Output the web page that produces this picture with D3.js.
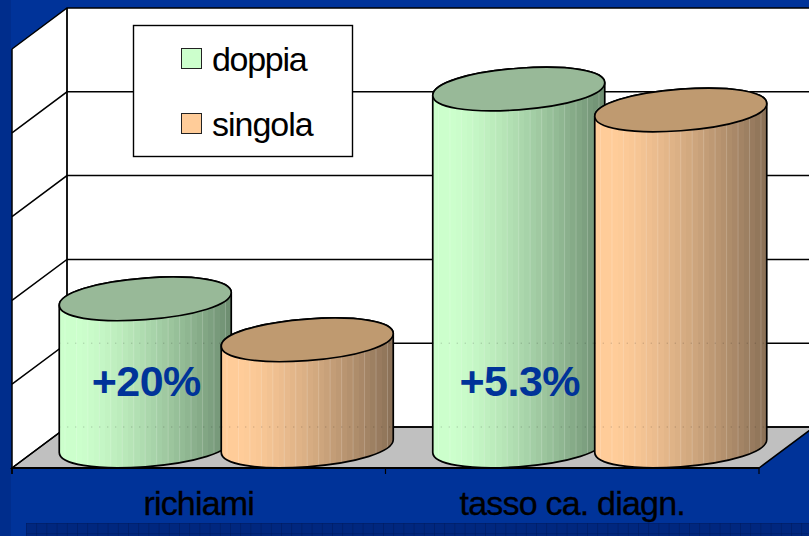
<!DOCTYPE html>
<html><head><meta charset="utf-8">
<script src="https://cdn.jsdelivr.net/npm/d3@7"></script>
<style>html,body{margin:0;padding:0;background:#003399;overflow:hidden}svg{display:block}
text{font-family:"Liberation Sans",Arial,sans-serif}</style></head>
<body><svg id="c" width="809" height="536"></svg>
<script>
const categories = ["richiami", "tasso ca. diagn."];
const seriesNames = ["doppia", "singola"];
const doppia = [1.76, 4.27];
const singola = [1.27, 4.02];
const annotations = ["+20%", "+5.3%"];
const gridTicks = [0, 1, 2, 3, 4, 5];

const svg = d3.select("#c");
const W = 809, H = 536;
const defs = svg.append("defs");
const dx = 55, dy = 41;
const fx0 = 12, fx1 = 759, frontY = 468, topFrontY = 49;
const x = d3.scaleBand().domain(categories).range([fx0, fx1]);
const inner = d3.scaleBand().domain(seriesNames).range([-162, 162]);
const yFront = d3.scaleLinear().domain([0, 5]).range([frontY, topFrontY]);
const yBack = d3.scaleLinear().domain([0, 5]).range([frontY - dy, topFrontY - dy]);
const yBar = d3.scaleLinear().domain([0, 5]).range([446, 28]);

// background
svg.append("rect").attr("width", W).attr("height", H).attr("fill", "#003399");
svg.append("rect").attr("width", 11).attr("height", H).attr("fill", "#002d8c");
const pat = defs.append("pattern").attr("id", "cells").attr("patternUnits", "userSpaceOnUse")
  .attr("width", 10.2).attr("height", 10.2).attr("x", 26).attr("y", 523);
pat.append("rect").attr("width", 10.2).attr("height", 10.2).attr("fill", "#00277f");
pat.append("path").attr("d", "M0 0V10.2M0 0H10.2").attr("stroke", "#001a5c").attr("stroke-width", 1);
svg.append("rect").attr("x", 26).attr("y", 523).attr("width", W - 26).attr("height", 13).attr("fill", "url(#cells)");

// walls
svg.append("rect").attr("x", fx0 + dx).attr("y", yBack(5)).attr("width", W).attr("height", yBack(0) - yBack(5))
  .attr("fill", "#fff");
svg.append("path").attr("d", `M${fx0},${yFront(0)}L${fx0},${yFront(5)}L${fx0 + dx},${yBack(5)}L${fx0 + dx},${yBack(0)}Z`)
  .attr("fill", "#fff");
svg.append("path").attr("d", `M${fx0},${frontY}L${fx1},${frontY}L${fx1 + dx},${frontY - dy}L${fx0 + dx},${frontY - dy}Z`)
  .attr("fill", "#c0c0c0").attr("stroke", "#000").attr("stroke-width", 1.5);
const grid = svg.append("g").attr("fill", "none").attr("stroke", "#000").attr("stroke-width", 1.5);
gridTicks.forEach(t => {
  grid.append("path").attr("d", `M${fx0},${yFront(t)}L${fx0 + dx},${yBack(t)}L${W + 5},${yBack(t)}`);
});
grid.append("path").attr("d", `M${fx0 + dx},${yBack(5)}V${yBack(0)}`).attr("stroke-width", 1.8);
grid.append("path").attr("d", `M${fx0},${yFront(5)}V${yFront(0) + 6}`);
grid.append("path").attr("d", `M${fx0},${frontY}H${fx1}`).attr("stroke-width", 2);

// x axis
const axis = d3.axisBottom(x).tickSize(0).tickPadding(23);
const ag = svg.append("g").attr("transform", `translate(0,${frontY})`).call(axis);
ag.select(".domain").remove();
ag.selectAll("text").attr("font-size", 34).attr("letter-spacing", "-0.8").attr("fill", "#000")
  .attr("stroke", "#000").attr("stroke-width", 0.3).attr("font-family", '"Liberation Sans"');
svg.append("g").selectAll("line").data(categories.concat(["end"])).join("line")
  .attr("x1", (d, i) => fx0 + i * x.bandwidth()).attr("x2", (d, i) => fx0 + i * x.bandwidth())
  .attr("y1", frontY).attr("y2", frontY + 6).attr("stroke", "#000").attr("stroke-width", 1.2);

// stepped cylinder shading
const palette = {
  doppia:  {lit: "#ccffcc", dark: "#6f8f72", top: "#98b998"},
  singola: {lit: "#ffcc99", dark: "#8c7258", top: "#bf9a70"}
};
const N = 30;
seriesNames.forEach(n => {
  const g = defs.append("linearGradient").attr("id", "g-" + n);
  const p = palette[n];
  const c = d3.interpolateRgb(p.lit, p.dark);
  for (let i = 0; i < N; i++) {
    const u = i / (N - 1), v = u < 0.1 ? 0 : Math.pow((u - 0.1) / 0.9, 1.35);
    g.append("stop").attr("offset", i / N).attr("stop-color", c(v));
    g.append("stop").attr("offset", (i + 1) / N).attr("stop-color", c(v));
  }
});

// slightly skewed elliptical caps
const skew = 4.2, rx = 86, ry = 20.8, kx = 0.58, ky = 0.58;
const skewT = `skewY(${-skew})`;
const bodyPath = d => {
  const t = yBar(d.v), b = yBar(0);
  return `M${-rx},${t}V${b}C${-rx},${b + ky * ry} ${-kx * rx},${b + ry} 0,${b + ry}` +
    `C${kx * rx},${b + ry} ${rx},${b + ky * ry} ${rx},${b}V${t}` +
    `C${rx},${t - ky * ry} ${kx * rx},${t - ry} 0,${t - ry}C${-kx * rx},${t - ry} ${-rx},${t - ky * ry} ${-rx},${t}Z`;
};
const capPath = d => {
  const t = yBar(d.v);
  return `M${-rx},${t}C${-rx},${t - ky * ry} ${-kx * rx},${t - ry} 0,${t - ry}C${kx * rx},${t - ry} ${rx},${t - ky * ry} ${rx},${t}` +
    `C${rx},${t + ky * ry} ${kx * rx},${t + ry} 0,${t + ry}C${-kx * rx},${t + ry} ${-rx},${t + ky * ry} ${-rx},${t}Z`;
};
const table = [];
categories.forEach((c, i) => {
  table.push({cat: c, name: "doppia", v: doppia[i]});
  table.push({cat: c, name: "singola", v: singola[i]});
});
const cyl = svg.append("g").selectAll("g").data(table).join("g")
  .attr("transform", d => `translate(${x(d.cat) + x.bandwidth() / 2 + dx / 2 + inner(d.name) + inner.bandwidth() / 2},0)`);
cyl.each(function(d, i) {
  defs.append("clipPath").attr("id", "clip" + i).append("path").attr("d", bodyPath(d)).attr("transform", skewT);
});
cyl.append("path").attr("d", bodyPath).attr("transform", skewT).attr("fill", d => `url(#g-${d.name})`);
// faint facet seams and gridlines showing through the cylinder
const seams = cyl.append("g").attr("clip-path", (d, i) => `url(#clip${i})`);
seams.selectAll("line.s").data(d3.range(1, N, 2).map(i => i / N)).join("line").attr("class", "s")
  .attr("x1", f => -rx + 2 * rx * f).attr("x2", f => -rx + 2 * rx * f)
  .attr("y1", 0).attr("y2", H).attr("stroke", "#fff").attr("stroke-opacity", 0.18).attr("stroke-width", 1);
seams.selectAll("line.g").data(gridTicks.slice(0, 2)).join("line").attr("class", "g")
  .attr("x1", -rx).attr("x2", rx).attr("y1", t => yBack(t)).attr("y2", t => yBack(t))
  .attr("stroke", "#000").attr("stroke-opacity", 0.25).attr("stroke-dasharray", "1 7");
cyl.append("path").attr("d", bodyPath).attr("transform", skewT).attr("fill", "none").attr("stroke", "#000").attr("stroke-width", 1.7);
cyl.append("path").attr("d", capPath).attr("transform", skewT)
  .attr("fill", d => palette[d.name].top).attr("stroke", "#000").attr("stroke-width", 1.7);

// annotations
svg.append("g").selectAll("text").data(annotations).join("text")
  .attr("x", (d, i) => x(categories[i]) + x.bandwidth() / 2 + dx / 2 + inner("doppia") + inner.bandwidth() / 2 + 1)
  .attr("y", 396).attr("text-anchor", "middle").attr("font-size", 43).attr("font-weight", "bold")
  .attr("letter-spacing", "-0.5").attr("fill", "#003399").text(d => d);

// legend
const lg = svg.append("g");
lg.append("rect").attr("x", 133.5).attr("y", 25.5).attr("width", 219).attr("height", 131)
  .attr("fill", "#fff").attr("stroke", "#000").attr("stroke-width", 1.4);
const li = lg.selectAll("g").data(seriesNames).join("g").attr("transform", (d, i) => `translate(0,${i * 65})`);
li.append("rect").attr("x", 181.5).attr("y", 48.5).attr("width", 20).attr("height", 20)
  .attr("fill", d => palette[d].lit).attr("stroke", "#222").attr("stroke-width", 1);
li.append("text").attr("x", 212).attr("y", 70.5).attr("font-size", 34).attr("letter-spacing", (d, i) => i ? "-1" : "-1.3")
  .attr("fill", "#000").text(d => d);
</script></body></html>
